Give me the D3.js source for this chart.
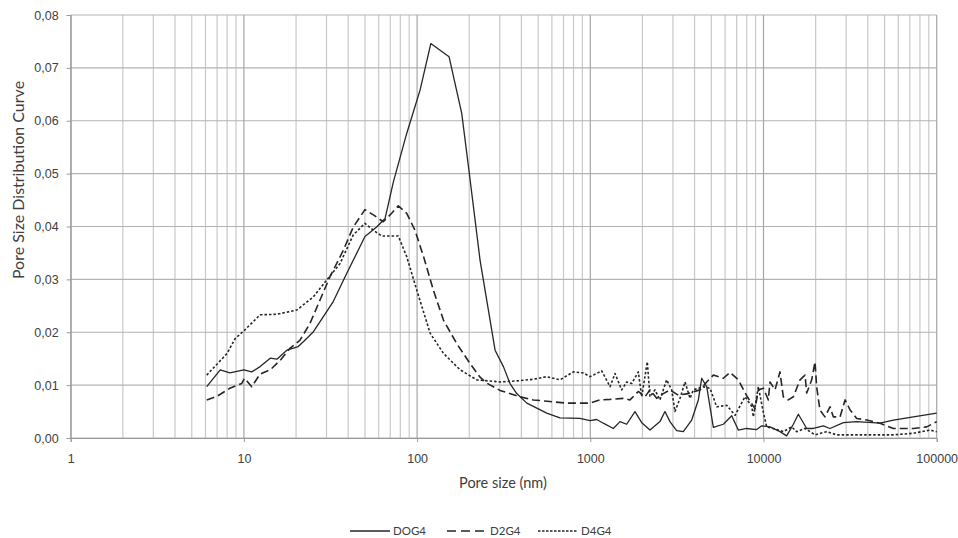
<!DOCTYPE html>
<html>
<head>
<meta charset="utf-8">
<script src="https://cdn.jsdelivr.net/npm/d3@7"></script>
<style>
  body { margin: 0; background: #fff; }
  svg { display: block; font-family: Lato, "Open Sans", sans-serif; }
  .tick text { fill: #404040; font-size: 12.5px; }
</style>
</head>
<body>
<div id="chart"></div>
<script>
// tick labels
const yTicks = [0, 0.01, 0.02, 0.03, 0.04, 0.05, 0.06, 0.07, 0.08];
const xTicks = [1, 10, 100, 1000, 10000, 100000];
const seriesNames = ["DOG4", "D2G4", "D4G4"];

// [pore size nm, value]
const dog4 = [
  [6.1, .0097], [7.3, .0129], [8.3, .0123], [10, .0129], [11.1, .0125], [12.4, .0135],
  [14.2, .0151], [15.5, .0149], [17.7, .0166], [20.6, .0173], [22.5, .0185], [25.2, .0201],
  [28.7, .0229], [32.8, .0258], [39.2, .0311], [50, .0381], [58.4, .0399], [65.3, .0415],
  [72.9, .0484], [87.1, .0576], [104, .0658], [120, .0746], [153, .0721], [181, .0614],
  [198, .0513], [231, .0336], [282, .0166], [315, .0135], [344, .0103], [376, .0084],
  [430, .0066], [501, .0055], [560, .0047], [668, .0038], [871, .0037], [996, .0033],
  [1089, .0035], [1189, .0028], [1358, .0018], [1484, .0031], [1622, .0026], [1811, .0050],
  [1981, .0029], [2211, .0015], [2525, .0031], [2698, .0050], [2883, .0031], [3152, .0014],
  [3444, .0012], [3850, .0034], [4205, .0072], [4397, .0113], [4700, .0097], [5134, .0020],
  [5865, .0026], [6553, .0042], [7156, .0015], [7995, .0018], [9134, .0016], [9761, .0023],
  [10900, .0021], [12450, .0012], [13600, .0004], [14870, .0026], [15890, .0045], [17760, .0018],
  [19400, .0018], [22140, .0023], [24200, .0018], [28930, .0029], [34540, .0031], [47080, .0028],
  [56230, .0034], [73350, .0040], [100000, .0047]
];

const d2g4 = [
  [6.1, .0072], [7.0, .0079], [8.3, .0094], [9.7, .0103], [10.1, .0113], [11.1, .0097],
  [12.4, .0121], [14.2, .0129], [16.2, .0147], [18.5, .0170], [21.1, .0185], [24.1, .0217],
  [27.5, .0261], [31.4, .0305], [37.5, .0355], [42.8, .0399], [50, .0432], [55.9, .0422],
  [63.8, .0409], [71.3, .0425], [77.9, .0439], [87.1, .0425], [97.2, .0393], [109, .0343],
  [124, .0280], [142, .0223], [169, .0179], [202, .0141], [231, .0115], [252, .0104],
  [301, .0090], [393, .0078], [469, .0072], [585, .0069], [731, .0066], [996, .0066],
  [1137, .0072], [1300, .0073], [1552, .0075], [1695, .0072], [1893, .0088], [2069, .0078],
  [2211, .0091], [2418, .0075], [2638, .0084], [2883, .0091], [3222, .0081], [3680, .0084],
  [4300, .0091], [4700, .0106], [5134, .0119], [5865, .0113], [6409, .0124], [7156, .0110],
  [7995, .0080], [8934, .0055], [9338, .0091], [10000, .0094], [10660, .0072], [10900, .0106],
  [11650, .0091], [12450, .0125], [13010, .0078], [13910, .0072], [14870, .0078], [16250, .0110],
  [17370, .0119], [17760, .0085], [18980, .0110], [19830, .0144], [20270, .0097], [21180, .0053],
  [22630, .0040], [24200, .0059], [25300, .0040], [27670, .0040], [29580, .0072], [31620, .0053],
  [34540, .0037], [39450, .0034], [47080, .0028], [56230, .0018], [73350, .0018], [87570, .0021],
  [100000, .0031]
];

const d4g4 = [
  [6.1, .0119], [8.0, .0160], [8.9, .0188], [10.1, .0204], [12.4, .0233], [15.5, .0234],
  [20.2, .0242], [25.2, .0267], [30.1, .0299], [35.9, .0330], [42.8, .0384], [50, .0406],
  [55.9, .0393], [62.5, .0382], [77.9, .0382], [87.1, .0343], [99.5, .0280], [119, .0198],
  [142, .0160], [177, .0129], [221, .0110], [301, .0106], [376, .0108], [469, .0111],
  [560, .0116], [668, .0110], [798, .0125], [912, .0123], [996, .0116], [1089, .0122],
  [1163, .0127], [1300, .0097], [1389, .0122], [1518, .0091], [1622, .0106], [1734, .0103],
  [1893, .0125], [1981, .0078], [2133, .0144], [2211, .0078], [2363, .0091], [2525, .0072],
  [2758, .0110], [2950, .0091], [3082, .0050], [3296, .0075], [3523, .0106], [3765, .0075],
  [3936, .0091], [4495, .0097], [4912, .0094], [5367, .0059], [6132, .0062], [6846, .0043],
  [7820, .0078], [8548, .0060], [8739, .0040], [9338, .0097], [10000, .0047], [10430, .0021],
  [11400, .0018], [13010, .0012], [14540, .0021], [15540, .0012], [17370, .0018], [19830, .0006],
  [23150, .0012], [26470, .0006], [36090, .0006], [56230, .0006], [73350, .0009], [91410, .0015],
  [100000, .0012]
];

const width = 958;
const height = 538;

const svg = d3.select("#chart").append("svg")
  .attr("width", width).attr("height", height);

const x = d3.scaleLog().domain([1, 100000]).range([70.7, 936.7]);
const y = d3.scaleLinear().domain([0, 0.08]).range([438, 15]);

// gridlines
const minor = [];
for (let e = 0; e < 5; e++) {
  for (let k = 2; k <= 9; k++) minor.push(k * Math.pow(10, e));
}
svg.append("g").selectAll("line").data(minor).join("line")
  .attr("x1", d => x(d)).attr("x2", d => x(d))
  .attr("y1", y(0)).attr("y2", y(0.08))
  .attr("stroke", "#c9c9c9").attr("stroke-width", 1.2);

svg.append("g").selectAll("line").data(yTicks).join("line")
  .attr("x1", x(1)).attr("x2", x(100000))
  .attr("y1", d => y(d)).attr("y2", d => y(d))
  .attr("stroke", "#b3b3b3").attr("stroke-width", 1.2);

svg.append("g").selectAll("line").data(xTicks).join("line")
  .attr("x1", d => x(d)).attr("x2", d => x(d))
  .attr("y1", y(0)).attr("y2", y(0.08))
  .attr("stroke", "#a6a6a6").attr("stroke-width", 1.2);

// axes
const fmt = d3.formatLocale({ decimal: ",", thousands: ".", grouping: [3], currency: ["", ""] }).format(".2f");

const yAxis = svg.append("g")
  .attr("transform", "translate(" + x(1) + ",0)")
  .call(d3.axisLeft(y).tickValues(yTicks).tickFormat(fmt).tickSize(4).tickPadding(8));
yAxis.select(".domain").attr("stroke", "#9a9a9a");
yAxis.selectAll(".tick line").attr("stroke", "#9a9a9a");

const xAxis = svg.append("g")
  .attr("transform", "translate(0," + y(0) + ")")
  .call(d3.axisBottom(x).tickValues(xTicks).tickFormat(d3.format("d")).tickSize(4).tickPadding(12));
xAxis.select(".domain").attr("stroke", "#9a9a9a");
xAxis.selectAll(".tick line").attr("stroke", "#9a9a9a");

// lines
const line = d3.line().x(d => x(d[0])).y(d => y(d[1]));
const styles = [
  { data: dog4, dash: null, w: 1.3 },
  { data: d2g4, dash: "8,4", w: 1.6 },
  { data: d4g4, dash: "2.5,2", w: 1.6 }
];
styles.forEach(s => {
  svg.append("path")
    .attr("d", line(s.data))
    .attr("fill", "none")
    .attr("stroke", "#262626")
    .attr("stroke-width", s.w)
    .attr("stroke-linejoin", "round")
    .attr("stroke-dasharray", s.dash);
});

// titles
svg.append("text")
  .attr("x", 503).attr("y", 488)
  .attr("text-anchor", "middle")
  .attr("fill", "#404040").attr("font-size", 14.5)
  .text("Pore size (nm)");

svg.append("text")
  .attr("transform", "translate(24,180) rotate(-90)")
  .attr("text-anchor", "middle")
  .attr("fill", "#404040").attr("font-size", 16)
  .text("Pore Size Distribution Curve");

// legend
const legendX = [350, 447, 538];
const legendDash = [null, "9,5", "2.5,1.5"];
const legend = svg.append("g");
seriesNames.forEach((name, i) => {
  legend.append("line")
    .attr("x1", legendX[i]).attr("x2", legendX[i] + 40)
    .attr("y1", 531).attr("y2", 531)
    .attr("stroke", "#262626").attr("stroke-width", 1.4)
    .attr("stroke-dasharray", legendDash[i]);
  legend.append("text")
    .attr("x", legendX[i] + 43).attr("y", 535)
    .attr("fill", "#404040").attr("font-size", 11.5)
    .text(name);
});
</script>
</body>
</html>
